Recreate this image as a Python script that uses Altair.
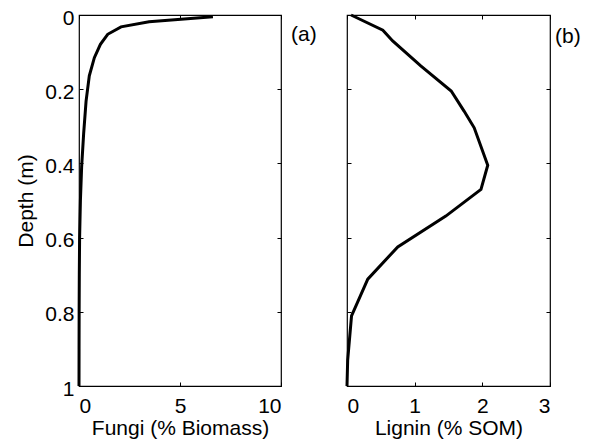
import altair as alt
import pandas as pd

# ---- data ----
fungi_depth = [0.005, 0.018, 0.032, 0.052, 0.079, 0.115, 0.164, 0.232, 0.32, 0.41, 0.50, 0.60, 0.70, 0.80, 0.90, 1.0]
fungi_pct = [6.63, 3.47, 2.08, 1.42, 1.06, 0.76, 0.51, 0.35, 0.23, 0.13, 0.07, 0.03, 0.015, 0.007, 0.003, 0.0]

lignin_depth = [0.0, 0.041, 0.07, 0.137, 0.205, 0.259, 0.304, 0.405, 0.47, 0.542, 0.625, 0.712, 0.811, 0.93, 1.0]
lignin_pct = [0.06, 0.53, 0.675, 1.09, 1.54, 1.73, 1.88, 2.08, 1.98, 1.46, 0.75, 0.307, 0.067, 0.01, 0.0]

fungi_ticks = [0, 5, 10]
lignin_ticks = [0, 1, 2, 3]
depth_ticks = [0, 0.2, 0.4, 0.6, 0.8, 1]
panel_labels = ["(a)", "(b)"]

FONT = "Liberation Sans"
FS = 21
H = 371
TICK = 4


def panel(depth, vals, xmax, xticks, xtitle, show_y, label, label_dx, label_y, width):
    df = pd.DataFrame({"depth": depth, "value": vals})
    xsc = alt.Scale(domain=[0, xmax], nice=False)
    ysc = alt.Scale(domain=[0, 1], reverse=True, nice=False)

    yaxis_kw = dict(values=depth_ticks, format="~r", orient="left", offset=-TICK,
                    tickSize=TICK, domain=False, grid=False, labelPadding=5,
                    titlePadding=8, labelOffset=3)
    if show_y:
        yaxis_kw["title"] = "Depth (m)"
    else:
        yaxis_kw["title"] = None
        yaxis_kw["labels"] = False

    line = alt.Chart(df).mark_line(color="black", strokeWidth=3).encode(
        x=alt.X("value:Q", scale=xsc,
                axis=alt.Axis(values=xticks, format="d", orient="bottom", offset=-TICK,
                              tickSize=TICK, domain=False, grid=False, title=xtitle,
                              labelPadding=9, titlePadding=1)),
        y=alt.Y("depth:Q", scale=ysc, axis=alt.Axis(**yaxis_kw)),
        order=alt.Order("depth:Q"),
    )

    frame_ticks = alt.Chart(df).mark_line(opacity=0).encode(
        x=alt.X("value:Q", scale=xsc,
                axis=alt.Axis(values=xticks, orient="top", offset=-TICK, tickSize=TICK,
                              labels=False, domain=False, grid=False, title=None)),
        y=alt.Y("depth:Q", scale=ysc,
                axis=alt.Axis(values=depth_ticks, orient="right", offset=-TICK, tickSize=TICK,
                              labels=False, domain=False, grid=False, title=None)),
        order=alt.Order("depth:Q"),
    )

    txt = alt.Chart(pd.DataFrame({"label": [label]})).mark_text(
        align="left", baseline="middle", font=FONT, fontSize=FS, color="black"
    ).encode(x=alt.value(width + label_dx), y=alt.value(label_y), text="label:N")

    return alt.layer(line, frame_ticks, txt).resolve_axis(
        x="independent", y="independent"
    ).properties(width=width, height=H)


left = panel(fungi_depth, fungi_pct, 10, fungi_ticks, "Fungi (% Biomass)", True,
             panel_labels[0], 10, 20, 202)
right = panel(lignin_depth, lignin_pct, 3, lignin_ticks, "Lignin (% SOM)", False,
              panel_labels[1], 5, 22, 203)

chart = alt.hconcat(left, right, spacing=66, bounds="flush").properties(
    padding={"left": 7, "top": -2, "right": 0, "bottom": 0},
    background="white",
).configure_axis(
    labelFont=FONT, titleFont=FONT, labelFontSize=FS, titleFontSize=FS,
    labelColor="black", titleColor="black", titleFontWeight="normal",
    tickColor="black", tickWidth=1,
).configure_view(stroke="black", strokeWidth=1.2)

chart.save("out.html", embed_options={"renderer": "svg", "actions": False})
